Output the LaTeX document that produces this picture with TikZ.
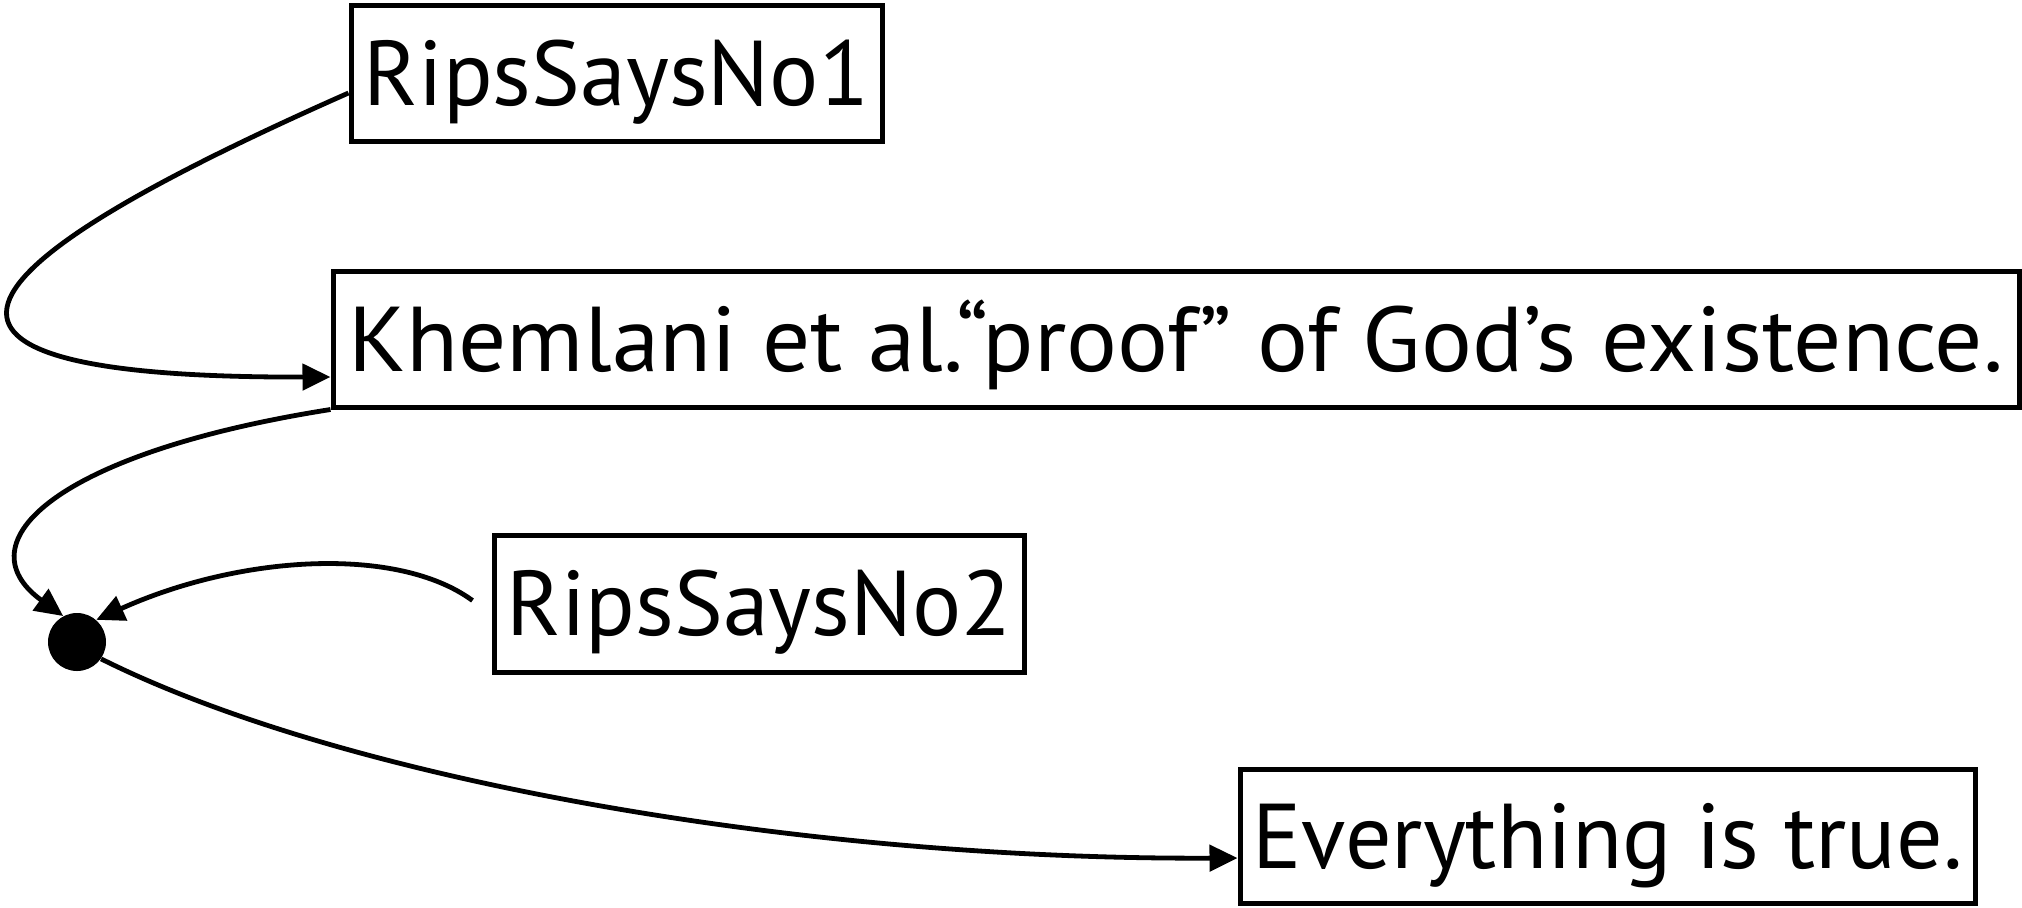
\documentclass[tikz,border=0pt]{standalone}
\usepackage{fontspec}
\setmainfont{PT Sans}
\usetikzlibrary{arrows.meta,calc}
\begin{document}
\begin{tikzpicture}[x=0.5pt,y=-0.5pt,
  box/.style={draw,line width=2.5pt,inner sep=0pt,text height=32pt,text depth=0pt,
    font=\fontsize{46}{54}\selectfont},
  conn/.style={line width=2.4pt,-{Triangle[length=14pt,width=13pt]}}]
\useasboundingbox (0,0) rectangle (2022,907);
\node[box,minimum width=265.5pt,minimum height=68pt] (B1) at (616.5,73) {RipsSaysNo1};
\node[box,minimum width=843pt,minimum height=68pt] (B2) at (1176,339) {\scalebox{1.035}[1]{Khemlani et al.“proof” of God’s existence.}};
\node[box,minimum width=265pt,minimum height=68.5pt] (B3) at (759,603.5) {RipsSaysNo2};
\node[box,minimum width=367.5pt,minimum height=67pt] (B4) at (1607.5,836) {Everything is true.};
\node[circle,fill=black,inner sep=0pt,minimum size=29pt] (dot) at (77,642) {};
\draw[conn] ($(B1.west)+(0,20)$) .. controls +(-410,181) and +(-465,1) .. ($(B2.west)+(0,38)$);
\draw[conn] (B2.south west) .. controls +(-273,43) and +(-102,-74) .. (dot.118);
\draw[conn] ($(B3.west)+(-19,-3)$) .. controls +(-75,-55) and +(144,-65) .. (dot.49);
\draw[conn] (dot.-35) .. controls +(240,120) and +(-440,2) .. ($(B4.west)+(0,22)$);
\end{tikzpicture}
\end{document}
